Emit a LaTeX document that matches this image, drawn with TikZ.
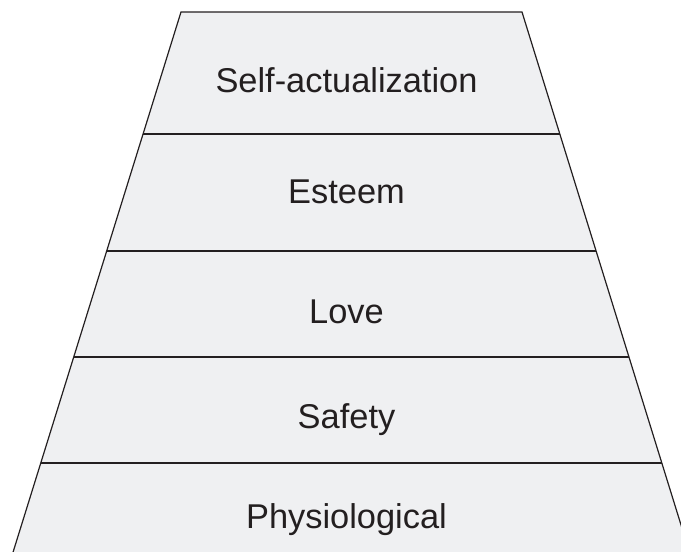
\documentclass[tikz,border=0pt]{standalone}
\usepackage{fontspec}
\setmainfont{Liberation Sans}
\definecolor{ink}{HTML}{231F20}
\definecolor{band}{HTML}{EFF0F2}
\tikzset{
    level/.style={anchor=base, text=ink, font=\fontsize{34.4}{40}\selectfont, inner sep=0pt},
    edge/.style={draw=ink, line width=1.2pt}
}

\begin{document}
\begin{tikzpicture}[x=1pt, y=-1pt]

    \useasboundingbox (0, 0) rectangle (681, 552);
    \clip (0, 0) rectangle (681, 552);

    % the pyramid body, its foot runs past the page
    \fill[band] (181, 12) -- (522, 12) -- (695, 570) -- (7.5, 570) -- cycle;

    % level boundaries, cut to the slanted sides
    \begin{scope}
        \clip (181, 12) -- (522, 12) -- (695, 570) -- (7.5, 570) -- cycle;
        \foreach \y in {134, 251, 357, 463}
            \draw[edge] (0, \y) -- (681, \y);
    \end{scope}

    \draw[edge, line join=miter] (7.5, 570) -- (181, 12) -- (522, 12) -- (695, 570);

    \node[level] (selfact) at (346.5, 92) {Self-actualization};
    \node[level] (esteem) at (346.5, 203) {Esteem};
    \node[level] (love) at (346.5, 323) {Love};
    \node[level] (safety) at (346.5, 428) {Safety};
    \node[level] (physio) at (346.5, 528) {Physiological};

\end{tikzpicture}
\end{document}
